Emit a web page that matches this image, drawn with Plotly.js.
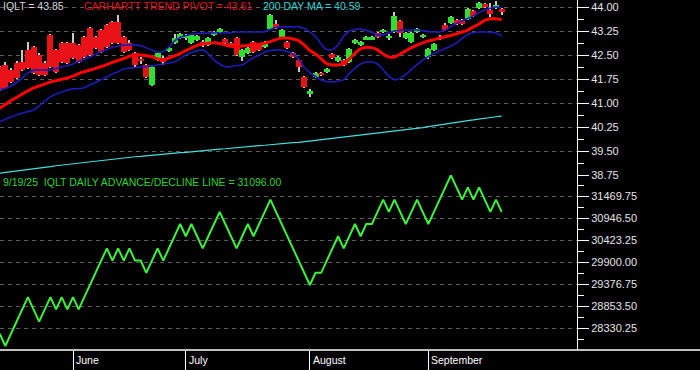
<!DOCTYPE html>
<html>
<head>
<meta charset="utf-8">
<script src="https://cdn.plot.ly/plotly-3.0.1.min.js"></script>
<style>
html,body{margin:0;padding:0;background:#000;}
#chart{width:700px;height:370px;}
</style>
</head>
<body>
<div id="chart"></div>
<script>
const dates = [
'2025-05-13','2025-05-14','2025-05-15','2025-05-16','2025-05-19','2025-05-20','2025-05-21','2025-05-22','2025-05-23','2025-05-27',
'2025-05-28','2025-05-29','2025-05-30','2025-06-02','2025-06-03','2025-06-04','2025-06-05','2025-06-06','2025-06-09','2025-06-10',
'2025-06-11','2025-06-12','2025-06-13','2025-06-16','2025-06-17','2025-06-18','2025-06-20','2025-06-23','2025-06-24','2025-06-25',
'2025-06-26','2025-06-27','2025-06-30','2025-07-01','2025-07-02','2025-07-03','2025-07-07','2025-07-08','2025-07-09','2025-07-10',
'2025-07-11','2025-07-14','2025-07-15','2025-07-16','2025-07-17','2025-07-18','2025-07-21','2025-07-22','2025-07-23','2025-07-24',
'2025-07-25','2025-07-28','2025-07-29','2025-07-30','2025-07-31','2025-08-01','2025-08-04','2025-08-05','2025-08-06','2025-08-07',
'2025-08-08','2025-08-11','2025-08-12','2025-08-13','2025-08-14','2025-08-15','2025-08-18','2025-08-19','2025-08-20','2025-08-21',
'2025-08-22','2025-08-25','2025-08-26','2025-08-27','2025-08-28','2025-08-29','2025-09-02','2025-09-03','2025-09-04','2025-09-05',
'2025-09-08','2025-09-09','2025-09-10','2025-09-11','2025-09-12','2025-09-15','2025-09-16','2025-09-17','2025-09-18','2025-09-19'];

const openP = [
42.12,42.19,42.03,42.25,42.28,42.66,42.75,42.50,42.25,43.12,
42.66,42.87,42.87,42.87,42.81,43.06,43.34,43.06,43.28,43.44,
43.53,43.53,43.06,42.87,42.56,42.37,42.19,41.56,42.34,42.41,
42.62,42.87,43.03,43.05,42.87,42.97,42.91,42.81,43.12,43.22,
43.00,42.87,43.03,42.44,42.56,42.91,42.81,42.75,43.31,43.47,
43.06,42.91,42.56,42.34,41.81,41.28,41.81,41.94,41.97,42.53,
42.31,42.34,42.28,42.87,42.81,43.00,43.00,43.19,43.22,43.05,
43.22,43.56,43.03,42.91,43.22,43.08,42.44,42.66,43.02,43.44,
43.50,43.59,43.59,43.62,43.88,43.97,44.09,43.91,44.03,43.94];

const highP = [
42.16,42.28,42.09,42.31,42.66,42.91,42.78,42.56,42.31,43.16,
42.69,42.91,42.91,43.19,42.84,43.09,43.37,43.09,43.31,43.47,
43.56,43.75,43.09,42.97,42.59,42.44,42.22,42.16,42.59,42.47,
42.75,43.16,43.19,43.16,43.16,43.12,42.97,43.06,43.25,43.34,
43.03,42.91,43.06,42.69,42.75,42.94,42.84,42.94,43.78,43.59,
43.31,42.94,42.59,42.37,41.84,41.44,41.97,41.97,42.09,42.56,
42.47,42.37,42.72,43.00,42.94,43.09,43.09,43.22,43.31,43.16,
43.84,43.59,43.22,43.22,43.34,43.16,42.72,42.87,43.12,43.50,
43.72,43.62,43.62,43.97,43.91,44.16,44.12,44.12,44.19,43.97];

const lowP = [
41.37,41.44,41.62,41.75,42.00,42.06,41.91,41.84,41.84,42.09,
41.94,42.25,42.22,42.37,42.25,42.41,42.47,42.69,42.56,42.72,
42.84,42.84,42.56,42.62,42.12,42.22,41.78,41.53,42.31,42.19,
42.59,42.84,43.00,42.97,42.84,42.94,42.75,42.78,43.09,43.19,
42.84,42.75,42.47,42.31,42.53,42.56,42.62,42.72,43.28,43.31,
43.03,42.69,42.41,41.97,41.47,41.19,41.78,41.84,41.94,42.37,
42.28,42.16,42.25,42.84,42.78,42.97,42.97,43.03,43.19,42.97,
43.19,43.06,43.00,42.87,43.19,43.03,42.37,42.62,42.97,43.25,
43.47,43.44,43.44,43.59,43.69,43.94,43.97,43.69,43.94,43.75];

const closeP = [
41.41,41.47,41.66,41.78,42.03,42.09,41.94,41.87,41.87,42.12,
41.97,42.28,42.25,42.41,42.28,42.44,42.50,42.72,42.59,42.75,
42.87,42.87,42.59,42.66,42.19,42.34,41.81,42.12,42.56,42.28,
42.72,43.03,43.16,43.08,43.12,43.09,42.81,43.03,43.22,43.31,
42.87,42.78,42.50,42.66,42.72,42.59,42.66,42.91,43.75,43.37,
43.28,42.72,42.44,42.12,41.50,41.37,41.94,41.87,42.06,42.41,
42.44,42.19,42.69,42.97,42.91,43.06,43.06,43.06,43.28,43.08,
43.72,43.19,43.19,43.19,43.31,43.11,42.69,42.84,43.05,43.28,
43.69,43.47,43.47,43.94,43.72,44.12,44.00,43.78,44.06,43.85];

const pivot = [
40.84,40.95,41.08,41.17,41.28,41.38,41.47,41.53,41.59,41.66,
41.70,41.74,41.78,41.84,41.92,41.98,42.03,42.08,42.14,42.20,
42.27,42.33,42.39,42.46,42.50,42.50,42.48,42.44,42.38,42.35,
42.41,42.47,42.55,42.64,42.72,42.80,42.84,42.87,42.88,42.86,
42.81,42.77,42.76,42.78,42.80,42.83,42.84,42.87,42.92,42.98,
43.03,43.03,43.00,42.95,42.81,42.64,42.53,42.38,42.23,42.19,
42.19,42.23,42.38,42.56,42.69,42.74,42.73,42.66,42.53,42.44,
42.44,42.53,42.63,42.73,42.81,42.88,42.94,42.98,43.03,43.07,
43.11,43.16,43.22,43.28,43.38,43.47,43.58,43.63,43.63,43.61];

const upperBand = [
41.41,41.45,41.53,41.64,41.78,41.94,42.02,42.03,42.03,42.03,
42.08,42.13,42.17,42.22,42.30,42.36,42.44,42.52,42.61,42.67,
42.74,42.78,42.81,42.81,42.81,42.79,42.73,42.66,42.59,42.61,
42.75,42.94,43.05,43.10,43.15,43.17,43.18,43.19,43.19,43.19,
43.19,43.20,43.22,43.22,43.22,43.22,43.22,43.23,43.30,43.36,
43.38,43.38,43.38,43.38,43.33,43.22,43.08,42.84,42.67,42.67,
42.81,43.09,43.25,43.30,43.31,43.27,43.20,43.13,43.13,43.19,
43.25,43.27,43.28,43.28,43.28,43.26,43.23,43.22,43.22,43.28,
43.39,43.48,43.56,43.64,43.73,43.83,43.91,43.96,44.00,43.99];

const lowerBand = [
40.41,40.49,40.56,40.63,40.69,40.73,40.78,40.91,41.06,41.19,
41.28,41.34,41.41,41.44,41.45,41.48,41.56,41.64,41.73,41.81,
41.91,41.98,42.06,42.09,42.11,42.13,42.14,42.16,42.19,42.22,
42.25,42.28,42.38,42.50,42.58,42.63,42.66,42.53,42.34,42.22,
42.13,42.14,42.17,42.19,42.31,42.41,42.50,42.59,42.64,42.66,
42.65,42.61,42.53,42.38,42.11,41.95,41.83,41.72,41.67,41.66,
41.69,41.73,41.92,42.09,42.22,42.28,42.28,42.22,42.03,41.84,
41.73,41.77,41.89,42.05,42.20,42.34,42.45,42.55,42.63,42.70,
42.78,42.88,43.02,43.14,43.20,43.22,43.22,43.21,43.19,43.09];

const ma200 = [
38.81,38.83,38.85,38.88,38.90,38.92,38.95,38.97,38.99,39.01,
39.04,39.06,39.08,39.10,39.13,39.15,39.17,39.20,39.22,39.24,
39.25,39.27,39.29,39.30,39.32,39.33,39.35,39.37,39.38,39.40,
39.42,39.43,39.45,39.46,39.48,39.49,39.51,39.52,39.54,39.56,
39.57,39.59,39.60,39.62,39.63,39.65,39.67,39.68,39.70,39.71,
39.73,39.74,39.76,39.77,39.79,39.81,39.83,39.85,39.87,39.89,
39.91,39.93,39.95,39.97,39.99,40.01,40.03,40.05,40.07,40.09,
40.11,40.13,40.16,40.18,40.21,40.23,40.26,40.29,40.31,40.34,
40.37,40.39,40.42,40.45,40.47,40.50,40.53,40.55,40.57,40.59];

const adLine = [
28196,27906,28196,28486,28776,29066,28776,28486,28776,29066,
28776,29066,28776,29066,28776,29066,29356,29646,29936,30226,
29936,30226,29936,30226,29936,29936,29646,29936,30226,29936,
30226,30516,30806,30516,30806,30516,30226,30516,30806,31096,
30806,30516,30226,30516,30806,30516,30806,31096,31386,31096,
30806,30516,30226,29936,29646,29356,29646,29646,29936,30226,
30516,30226,30516,30806,30516,30806,30806,31096,31386,31096,
31386,31096,30806,31096,31386,31096,30806,31096,31386,31676,
31966,31676,31386,31676,31386,31676,31386,31096,31386,31096];

const monthLabels = ['June','July','August','September'];

// ---- derived ----
const n = dates.length;
const idx = dates.map((d, i) => i);
const monthIdx = [];
for (let i = 1; i < n; i++) {
  if (dates[i].slice(5, 7) !== dates[i - 1].slice(5, 7)) monthIdx.push(i);
}
const bodyBase = idx.map(i => Math.min(openP[i], closeP[i]));
const bodyH = idx.map(i => Math.abs(closeP[i] - openP[i]));
const bodyCol = idx.map(i => closeP[i] >= openP[i] ? '#2ee02e' : '#ea1219');
const wickH = idx.map(i => highP[i] - lowP[i]);

const FONT = 'Arial, "Liberation Sans", sans-serif';
const PW = 577, PH = 350;

const traces = [
  { type: 'bar', x: idx, base: lowP, y: wickH, width: 0.18, xaxis: 'x', yaxis: 'y',
    marker: { color: '#c8c8c8', line: { width: 0 } }, hoverinfo: 'skip' },
  { type: 'bar', x: idx, base: bodyBase, y: bodyH, width: 1.06, xaxis: 'x', yaxis: 'y',
    marker: { color: bodyCol, line: { width: 0 } }, hoverinfo: 'skip' },
  { type: 'scatter', mode: 'lines', x: idx, y: ma200, xaxis: 'x', yaxis: 'y',
    line: { color: '#45dede', width: 1.2 }, hoverinfo: 'skip' },
  { type: 'scatter', mode: 'lines', x: idx, y: upperBand, xaxis: 'x', yaxis: 'y',
    line: { color: '#1c1cb8', width: 1.6, shape: 'spline' }, hoverinfo: 'skip' },
  { type: 'scatter', mode: 'lines', x: idx, y: lowerBand, xaxis: 'x', yaxis: 'y',
    line: { color: '#1c1cb8', width: 1.6, shape: 'spline' }, hoverinfo: 'skip' },
  { type: 'scatter', mode: 'lines', x: idx, y: pivot, xaxis: 'x', yaxis: 'y',
    line: { color: '#ff0000', width: 3, shape: 'spline' }, hoverinfo: 'skip' },
  { type: 'scatter', mode: 'lines', x: idx, y: adLine, xaxis: 'x', yaxis: 'y2',
    line: { color: '#3cf23c', width: 2 }, hoverinfo: 'skip' }
];

const yCommon = {
  side: 'right', showline: true, linecolor: '#ffffff', linewidth: 1,
  ticks: 'outside', ticklen: 11, tickcolor: '#ffffff', tickwidth: 1,
  showgrid: true, gridcolor: '#5c5c5c', griddash: '4px,4px', gridwidth: 1,
  zeroline: false, tickformat: '.2f', tickmode: 'linear',
  tickfont: { family: FONT, size: 11, color: '#e4e4e4' },
  fixedrange: true, anchor: 'x'
};

const lastDate = dates[n - 1].split('-');
const dateLabel = (+lastDate[1]) + '/' + (+lastDate[2]) + '/' + lastDate[0].slice(2);

const annotations = [
  { text: 'IQLT = ' + closeP[n - 1].toFixed(2), x: 1 / PW, color: '#d8d8d8' },
  { text: 'CARHARTT TREND PIVOT = ' + pivot[n - 1].toFixed(2), x: 82 / PW, color: '#e31414' },
  { text: '200 DAY MA = ' + ma200[n - 1].toFixed(2), x: 261 / PW, color: '#35d2d2' }
].map(a => ({
  text: a.text, xref: 'paper', yref: 'paper', x: a.x, y: 1 - 6 / PH,
  xanchor: 'left', yanchor: 'middle', showarrow: false,
  font: { family: FONT, size: 10.5, color: a.color }
}));

annotations.push({
  text: dateLabel + '\u00a0 IQLT DAILY ADVANCE/DECLINE LINE = ' + adLine[n - 1].toFixed(2),
  xref: 'paper', yref: 'paper', x: 1 / PW, y: 1 - 181.5 / PH,
  xanchor: 'left', yanchor: 'middle', showarrow: false,
  font: { family: FONT, size: 10.5, color: '#2ed22e' }
});

monthIdx.forEach((mi, k) => {
  annotations.push({
    text: monthLabels[k], xref: 'x', yref: 'paper', x: mi, y: 0,
    xanchor: 'left', yanchor: 'top', xshift: 1, yshift: -2, showarrow: false,
    font: { family: FONT, size: 10.5, color: '#ffffff' }
  });
});

const layout = {
  width: 700, height: 370,
  margin: { l: 0, r: 700 - PW, t: 0, b: 370 - PH, pad: 0 },
  paper_bgcolor: '#000000', plot_bgcolor: '#000000',
  showlegend: false, barmode: 'overlay', bargap: 0,
  xaxis: {
    range: [0.057, 0.057 + PW / 5.64], anchor: 'y2',
    showgrid: false, zeroline: false, showline: false,
    tickmode: 'array', tickvals: monthIdx, ticktext: monthLabels,
    showticklabels: false, ticks: 'outside', ticklen: 20, tickcolor: '#ffffff', tickwidth: 1,
    fixedrange: true
  },
  yaxis: Object.assign({}, yCommon, {
    domain: [0.5, 1], range: [38.75, 44.219], tick0: 38.75, dtick: 0.75,
    minor: { tick0: 38.75, dtick: 0.375, ticks: 'outside', ticklen: 6, tickcolor: '#ffffff', showgrid: false }
  }),
  yaxis2: Object.assign({}, yCommon, {
    domain: [0, 0.5], range: [27810, 31972], tick0: 28330.25, dtick: 523.25,
    minor: { tick0: 28330.25, dtick: 261.625, ticks: 'outside', ticklen: 6, tickcolor: '#ffffff', showgrid: false }
  }),
  shapes: [
    { type: 'line', xref: 'paper', yref: 'paper', x0: 0, x1: 700 / PW, y0: 0, y1: 0,
      line: { color: '#ffffff', width: 1.5 } }
  ],
  annotations: annotations
};

Plotly.newPlot('chart', traces, layout, { displayModeBar: false, responsive: false });
</script>
</body>
</html>
